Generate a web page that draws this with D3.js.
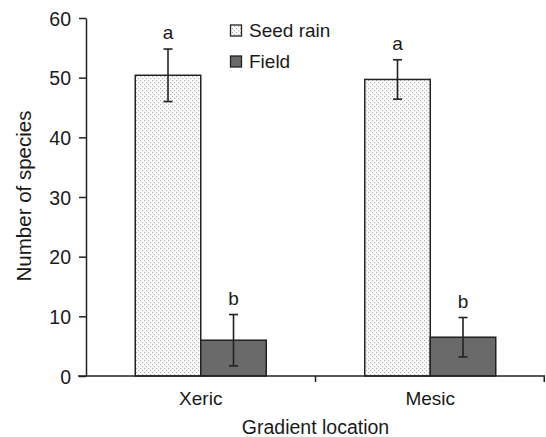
<!DOCTYPE html>
<html>
<head>
<meta charset="utf-8">
<script src="https://cdn.jsdelivr.net/npm/d3@7"></script>
<style>
  body { margin: 0; background: #fff; }
  text { font-family: "Liberation Sans", Arial, sans-serif; fill: #1a1a1a; }
</style>
</head>
<body>
<svg id="chart"></svg>
<script>
let width = 546;
let height = 437;

// values
let locations = ["Xeric", "Mesic"];
let seriesNames = ["Seed rain", "Field"];
let seedRain = [50.4, 49.7];
let seedRainErr = [4.4, 3.3];
let field = [6.0, 6.5];
let fieldErr = [4.3, 3.3];
let seedLetters = ["a", "a"];
let fieldLetters = ["b", "b"];
let yTicks = [0, 10, 20, 30, 40, 50, 60];

let margin = {left: 86, right: 1, top: 18, bottom: 61};

let svg = d3.select("#chart")
    .attr("width", width)
    .attr("height", height);

// dotted fill for the seed rain bars
let defs = svg.append("defs");
let pat = defs.append("pattern")
    .attr("id", "dots")
    .attr("patternUnits", "userSpaceOnUse")
    .attr("width", 4)
    .attr("height", 4);
pat.append("rect").attr("width", 4).attr("height", 4).attr("fill", "#fdfdfd");
pat.append("rect").attr("x", 0).attr("y", 0).attr("width", 1.2).attr("height", 1.2).attr("fill", "#b4b4b4");
pat.append("rect").attr("x", 2).attr("y", 2).attr("width", 1.2).attr("height", 1.2).attr("fill", "#b4b4b4");

let x = d3.scaleBand()
    .domain(locations)
    .range([margin.left, width - margin.right])
    .paddingInner(0)
    .paddingOuter(0);

let y = d3.scaleLinear()
    .domain([0, 60])
    .range([height - margin.bottom, margin.top]);

let barW = 65.5;

let rows = locations.map(function (loc, i) {
    return [
        {loc: loc, key: "seed", v: seedRain[i], e: seedRainErr[i], letter: seedLetters[i], off: -barW},
        {loc: loc, key: "field", v: field[i], e: fieldErr[i], letter: fieldLetters[i], off: 0}
    ];
}).flat();

let fills = {seed: "url(#dots)", field: "#6a6a6a"};

// bars
svg.append("g")
    .selectAll("rect")
    .data(rows)
    .enter().append("rect")
    .attr("x", d => x(d.loc) + x.bandwidth() / 2 + d.off)
    .attr("y", d => y(d.v))
    .attr("width", barW)
    .attr("height", d => y(0) - y(d.v))
    .attr("fill", d => fills[d.key])
    .attr("stroke", "#222")
    .attr("stroke-width", 1.5);

// error bars + letters
let eg = svg.append("g")
    .attr("stroke", "#222")
    .attr("stroke-width", 1.6);
rows.forEach(function (d) {
    let cx = x(d.loc) + x.bandwidth() / 2 + d.off + barW / 2;
    eg.append("line")
        .attr("x1", cx).attr("x2", cx)
        .attr("y1", y(d.v + d.e)).attr("y2", y(d.v - d.e));
    eg.append("line")
        .attr("x1", cx - 4.5).attr("x2", cx + 4.5)
        .attr("y1", y(d.v + d.e)).attr("y2", y(d.v + d.e));
    eg.append("line")
        .attr("x1", cx - 4.5).attr("x2", cx + 4.5)
        .attr("y1", y(d.v - d.e)).attr("y2", y(d.v - d.e));
    svg.append("text")
        .attr("x", cx)
        .attr("y", y(d.v + d.e) - 10)
        .attr("text-anchor", "middle")
        .attr("font-size", 19)
        .text(d.letter);
});

// y axis
let yAxis = svg.append("g")
    .attr("transform", "translate(" + margin.left + ",0)")
    .call(d3.axisLeft(y).tickValues(yTicks).tickSize(7).tickPadding(8).tickSizeOuter(0));
yAxis.selectAll("text").attr("font-size", 19.5).attr("dy", "0.36em").style("font-family", "Liberation Sans, Arial, sans-serif").attr("fill", "#1a1a1a");
yAxis.select(".domain").attr("stroke", "#222").attr("stroke-width", 1.5);
yAxis.selectAll(".tick line").attr("stroke", "#222").attr("stroke-width", 1.5);

// x axis: ticks on the category boundaries
let xAxis = svg.append("g")
    .attr("transform", "translate(0," + y(0) + ")");
xAxis.append("line")
    .attr("x1", margin.left - 8).attr("x2", width - margin.right)
    .attr("stroke", "#222").attr("stroke-width", 1.5);
xAxis.selectAll(".bt")
    .data(locations.slice(1).concat(["end"]))
    .enter().append("line")
    .attr("x1", d => d === "end" ? x.range()[1] - 0.75 : x(d))
    .attr("x2", d => d === "end" ? x.range()[1] - 0.75 : x(d))
    .attr("y1", 0).attr("y2", 6)
    .attr("stroke", "#222").attr("stroke-width", 1.5);
xAxis.selectAll(".lab")
    .data(locations)
    .enter().append("text")
    .attr("x", d => x(d) + x.bandwidth() / 2)
    .attr("y", 29)
    .attr("text-anchor", "middle")
    .attr("font-size", 19)
    .text(d => d);

// axis titles
svg.append("text")
    .attr("x", (margin.left + width - margin.right) / 2)
    .attr("y", 434)
    .attr("text-anchor", "middle")
    .attr("font-size", 19.5)
    .text("Gradient location");

svg.append("text")
    .attr("transform", "translate(31,196) rotate(-90)")
    .attr("text-anchor", "middle")
    .attr("font-size", 20.5)
    .text("Number of species");

// legend
let legend = svg.append("g");
seriesNames.forEach(function (name, i) {
    let ly = 25 + i * 31;
    legend.append("rect")
        .attr("x", 230.5).attr("y", ly)
        .attr("width", 11).attr("height", 11)
        .attr("fill", i === 0 ? "url(#dots)" : "#6a6a6a")
        .attr("stroke", "#222").attr("stroke-width", 1.3);
    legend.append("text")
        .attr("x", 249)
        .attr("y", ly + 12)
        .attr("font-size", 19)
        .text(name);
});
</script>
</body>
</html>
